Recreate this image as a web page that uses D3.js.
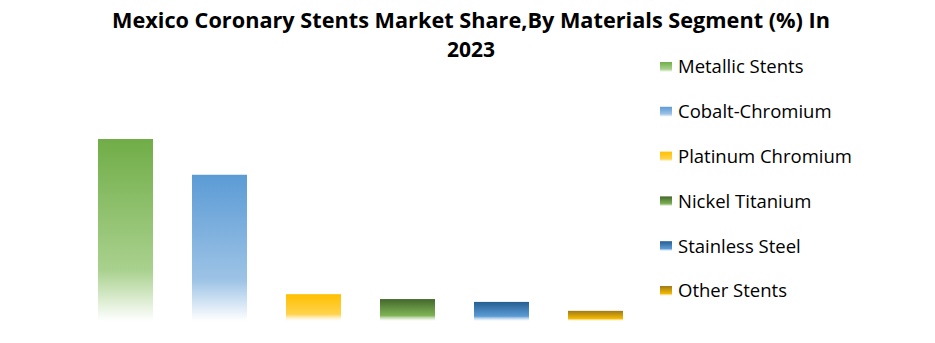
<!DOCTYPE html>
<html>
  <head>
    <meta charset="utf-8">
    <title>Mexico Coronary Stents Market Share</title>
    <script type="text/javascript" src="https://cdn.jsdelivr.net/npm/d3@7"></script>
    <style>
      body { margin: 0; background: #fff; }
      text { font-family: "Open Sans", Lato, sans-serif; }
    </style>
  </head>
  <body>
<script type="text/javascript">
var w = 935;
var h = 343;

// data
var categories = ["Metallic Stents", "Cobalt-Chromium", "Platinum Chromium", "Nickel Titanium", "Stainless Steel", "Other Stents"];
var shares = [44.8, 36.0, 6.6, 5.4, 4.7, 2.5];
var topColors = ["#70ad47", "#5b9bd5", "#ffc000", "#43682b", "#255e91", "#9e7a1a"];
var bottomColors = ["#a9d18e", "#9dc3e6", "#ffd34d", "#7fb356", "#5b9bd5", "#f2b800"];
var titleLines = ["Mexico Coronary Stents Market Share,By Materials Segment (%) In", "2023"];

var svg = d3.select("body")
            .append("svg")
            .attr("width", w)
            .attr("height", h);

var defs = svg.append("defs");
categories.forEach(function(c, i) {
  var g = defs.append("linearGradient")
              .attr("id", "grad" + i)
              .attr("x1", 0).attr("y1", 0)
              .attr("x2", 0).attr("y2", 1);
  var fadeStart = i < 2 ? 0.72 : 0.75;
  g.append("stop").attr("offset", 0).attr("stop-color", topColors[i]);
  g.append("stop").attr("offset", fadeStart).attr("stop-color", bottomColors[i]);
  g.append("stop").attr("offset", 1).attr("stop-color", "#ffffff").attr("stop-opacity", i < 2 ? 1 : 0.5);
});

var xScale = d3.scaleBand()
               .domain(categories)
               .range([59, 662])
               .paddingInner(0.415)
               .paddingOuter(0.415);

var yScale = d3.scaleLinear()
               .domain([0, 44.8])
               .range([321, 139]);

svg.selectAll("rect.bar")
   .data(shares)
   .enter()
   .append("rect")
   .attr("class", "bar")
   .attr("x", function(d, i) { return xScale(categories[i]); })
   .attr("y", function(d) { return yScale(d); })
   .attr("width", xScale.bandwidth())
   .attr("height", function(d) { return yScale(0) - yScale(d); })
   .attr("fill", function(d, i) { return "url(#grad" + i + ")"; });

// title
svg.selectAll("text.title")
   .data(titleLines)
   .enter()
   .append("text")
   .attr("class", "title")
   .attr("x", 471)
   .attr("y", function(d, i) { return 28 + i * 29; })
   .attr("text-anchor", "middle")
   .style("font-size", "21px")
   .style("font-weight", "bold")
   .style("fill", "#000")
   .text(function(d) { return d; })
   .each(function(d, i) {
     if (i === 0) d3.select(this).attr("textLength", 718).attr("lengthAdjust", "spacingAndGlyphs");
   });

// legend
var legendY = d3.scalePoint()
                .domain(categories)
                .range([67, 291]);

var legend = svg.selectAll("g.legend")
                .data(categories)
                .enter()
                .append("g")
                .attr("class", "legend")
                .attr("transform", function(d) { return "translate(660," + legendY(d) + ")"; });

legend.append("rect")
      .attr("x", 0)
      .attr("y", -5)
      .attr("width", 12)
      .attr("height", 10)
      .attr("fill", function(d, i) { return "url(#grad" + i + ")"; });

legend.append("text")
      .attr("x", 18)
      .attr("y", 0)
      .attr("dy", "0.35em")
      .style("font-size", "18.5px")
      .style("fill", "#000")
      .text(function(d) { return d; });
</script>
  </body>
</html>
